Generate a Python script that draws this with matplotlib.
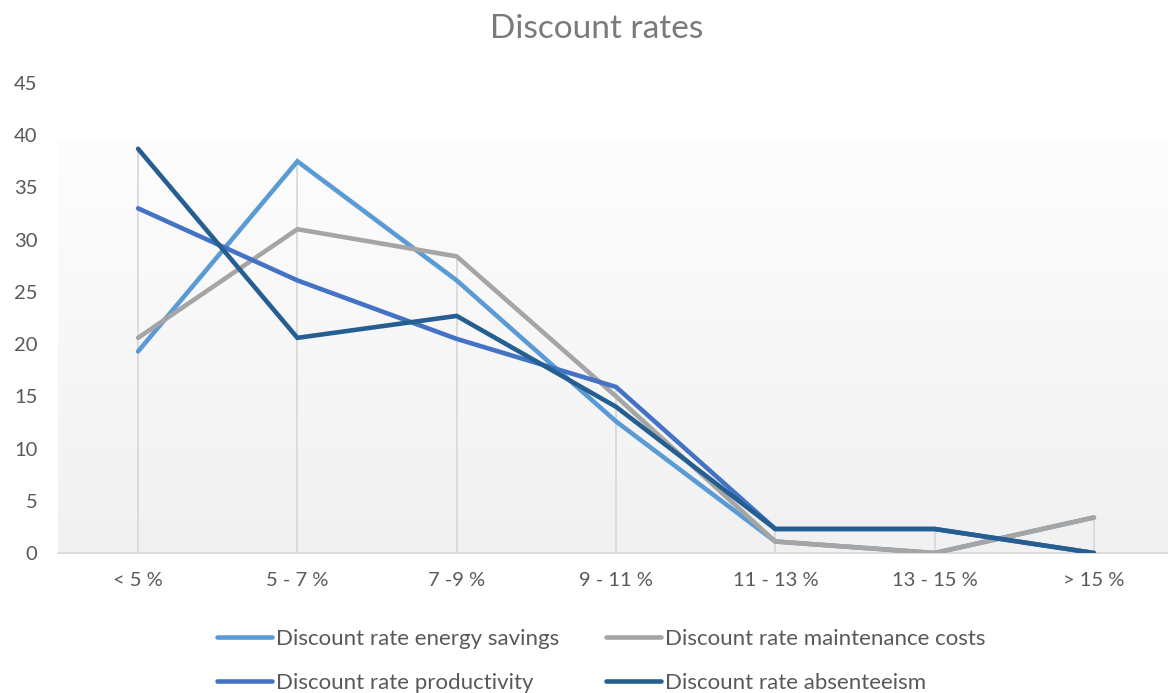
import numpy as np
import matplotlib.pyplot as plt
from matplotlib.colors import LinearSegmentedColormap

# ---------------- DADOS ----------------
categorias = ['< 5 %', '5 - 7 %', '7 -9 %', '9 - 11 %', '11 - 13 %', '13 - 15 %', '> 15 %']

energy_savings = [19.3, 37.5, 26.1, 12.6, 1.1, 0.0, 3.4]
maintenance_costs = [20.6, 31.0, 28.4, 15.0, 1.1, 0.0, 3.4]
productivity = [33.0, 26.1, 20.5, 15.9, 2.3, 2.3, 0.0]
absenteeism = [38.7, 20.6, 22.7, 14.0, 2.3, 2.3, 0.0]

series = [
    ('Discount rate energy savings', energy_savings, '#5B9BD5'),
    ('Discount rate maintenance costs', maintenance_costs, '#A5A5A5'),
    ('Discount rate productivity', productivity, '#4472C4'),
    ('Discount rate absenteeism', absenteeism, '#255E91'),
]

# ---------------- FIGURA ----------------
plt.rcParams['font.family'] = ['Lato', 'DejaVu Sans']
texto = '#595959'

fig = plt.figure(figsize=(11.68, 6.93), dpi=100)
ax = fig.add_axes([58.4 / 1168, 140 / 693, 1115.2 / 1168, 470 / 693])

x = np.arange(len(categorias))

# fundo em degradê da área do gráfico
cmap = LinearSegmentedColormap.from_list('fundo', ['#f1f1f1', '#fdfdfd'])
grad = np.linspace(0, 1, 256).reshape(-1, 1)
ax.imshow(grad, cmap=cmap, aspect='auto', origin='lower',
          extent=[-0.5, len(categorias) - 0.5, 0, 39.3], zorder=0)

# linhas de queda (do maior valor de cada categoria até o eixo)
topo = np.max([s[1] for s in series], axis=0)
ax.vlines(x, 0, topo, color='#d9d9d9', lw=1.3, zorder=1)

linhas = []
for nome, valores, cor in series:
    l, = ax.plot(x, valores, color=cor, lw=3.3, label=nome, zorder=3,
                 solid_capstyle='round', solid_joinstyle='miter')
    linhas.append(l)

ax.set_xlim(-0.5, len(categorias) - 0.5)
ax.set_ylim(0, 45)
ax.set_yticks(range(0, 46, 5))
ax.set_xticks(x)
ax.set_xticklabels(categorias)

for lado in ['top', 'right', 'left']:
    ax.spines[lado].set_visible(False)
ax.spines['bottom'].set_color('#d9d9d9')
ax.spines['bottom'].set_linewidth(1.3)
ax.spines['bottom'].set_zorder(2)

ax.tick_params(axis='y', length=0, pad=15, labelsize=14.5, labelcolor=texto)
ax.tick_params(axis='x', length=0, pad=14, labelsize=14.5, labelcolor=texto)

fig.text(597 / 1168, 1 - 29 / 693, 'Discount rates', ha='center', va='center',
         fontsize=24, color='#7a7a7a')

# ordem por linhas (matplotlib preenche por colunas)
ordem = [0, 2, 1, 3]
leg = fig.legend([linhas[i] for i in ordem], [series[i][0] for i in ordem],
                 loc='center', bbox_to_anchor=(601 / 1168, 1 - 661 / 693), ncol=2,
                 frameon=False, fontsize=16, handlelength=2.5, handletextpad=0.15,
                 columnspacing=2.1, labelspacing=1.1)
for t in leg.get_texts():
    t.set_color(texto)

plt.savefig('out.png', dpi=100)
